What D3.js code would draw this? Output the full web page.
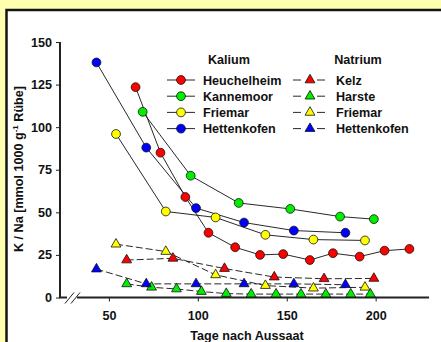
<!DOCTYPE html>
<html>
<head>
<meta charset="utf-8">
<script src="https://cdn.jsdelivr.net/npm/d3@7"></script>
<style>
  body { margin: 0; background: #ffffb0; }
  svg { display: block; font-family: "Liberation Sans", Arial, sans-serif; font-weight: bold; }
</style>
</head>
<body>
<svg id="chart" width="441" height="342"></svg>
<script>
// Kalium (circles, solid lines)
const heuchelheimDays = [65, 79, 93, 106, 121, 135, 148, 163, 176, 191, 205, 219];
const heuchelheimK = [123.5, 85, 59, 38, 29.5, 25, 25.5, 22, 26, 24, 27.5, 28.5];
const kannemoorDays = [69, 96, 123, 152, 180, 199];
const kannemoorK = [109, 71.5, 55.5, 52, 47.5, 46];
const friemarDays = [54, 82, 110, 138, 165, 194];
const friemarK = [96, 50.5, 47, 36.8, 34, 33.5];
const hettenkofenDays = [43, 71, 99, 126, 154, 183];
const hettenkofenK = [138, 88, 52.5, 44, 39.3, 38];

// Natrium (triangles, dashed lines)
const kelzDays = [60, 86, 115, 143, 171, 199];
const kelzNa = [22, 23, 17, 12, 11, 11.2];
const harsteDays = [60, 74, 88, 102, 116, 130, 144, 158, 172, 186, 197];
const harsteNa = [8, 6, 5, 3.5, 2.3, 2, 2, 2, 2, 2, 2];
const friemarNa = [31.3, 27, 13.3, 7, 5.5, 6];
const hettenkofenNa = [16.7, 8, 8, 8, 8, 7.5];

const xTicks = [50, 100, 150, 200];
const yTicks = [0, 25, 50, 75, 100, 125, 150];

const kaliumSeries = [
  { name: "Heuchelheim", color: "#ff0000", days: heuchelheimDays, vals: heuchelheimK },
  { name: "Kannemoor", color: "#00ee00", days: kannemoorDays, vals: kannemoorK },
  { name: "Friemar", color: "#ffff00", days: friemarDays, vals: friemarK },
  { name: "Hettenkofen", color: "#0000ff", days: hettenkofenDays, vals: hettenkofenK }
];
const natriumSeries = [
  { name: "Kelz", color: "#ff0000", days: kelzDays, vals: kelzNa },
  { name: "Harste", color: "#00ee00", days: harsteDays, vals: harsteNa },
  { name: "Friemar", color: "#ffff00", days: friemarDays, vals: friemarNa },
  { name: "Hettenkofen", color: "#0000ff", days: hettenkofenDays, vals: hettenkofenNa }
];

const svg = d3.select("#chart");
const fs = "12.6px";

// frame (white panel, runs off right / bottom)
svg.append("rect")
  .attr("x", 6.5).attr("y", 10)
  .attr("width", 500).attr("height", 400)
  .attr("fill", "white")
  .attr("stroke", "#151515")
  .attr("stroke-width", 2.5);

const x = d3.scaleLinear().domain([22.5, 230]).range([60, 429]);
const y = d3.scaleLinear().domain([0, 150]).range([297.5, 42]);

// y axis
const yAxis = svg.append("g").attr("transform", "translate(60,0)")
  .call(d3.axisLeft(y).tickValues(yTicks).tickSize(4).tickPadding(4));
yAxis.select(".domain").attr("stroke", "#222").attr("stroke-width", 2).attr("d", `M0,${y(150)}V${y(0)}`);
yAxis.selectAll(".tick line").attr("stroke", "#222");
yAxis.selectAll(".tick text").attr("font-size", fs).attr("font-family", null).attr("fill", "#111");

// x axis with break
const xAxis = svg.append("g").attr("transform", `translate(0,${y(0)})`)
  .call(d3.axisBottom(x).tickValues(xTicks).tickSize(4).tickPadding(10));
xAxis.select(".domain").remove();
xAxis.selectAll(".tick line").attr("stroke", "#222");
xAxis.selectAll(".tick text").attr("font-size", fs).attr("font-family", null).attr("fill", "#111");
xAxis.append("path").attr("d", "M59,0H67").attr("stroke", "#222").attr("stroke-width", 2);
xAxis.append("path").attr("d", "M77,0H429").attr("stroke", "#222").attr("stroke-width", 2);
xAxis.append("path").attr("d", "M65,6L74,-5M71,6L80,-5").attr("stroke", "#222").attr("stroke-width", 1);

// axis titles
svg.append("text")
  .attr("x", 247).attr("y", 339.5)
  .attr("text-anchor", "middle").attr("font-size", fs).attr("fill", "#111")
  .text("Tage nach Aussaat");

const yTitle = svg.append("text")
  .attr("transform", "translate(23,169) rotate(-90)")
  .attr("text-anchor", "middle").attr("font-size", fs).attr("fill", "#111");
yTitle.append("tspan").text("K / Na [mmol 1000 g");
yTitle.append("tspan").attr("font-size", "8px").attr("dy", -5).text("-1");
yTitle.append("tspan").attr("dy", 5).text(" Rübe]");

const line = d3.line().x(d => x(d[0])).y(d => y(d[1]));
const tri = d3.symbol().type(d3.symbolTriangle).size(42);
const pts = s => s.days.map((d, i) => [d, s.vals[i]]);

// lines
svg.append("g").selectAll("path")
  .data(natriumSeries).join("path")
  .attr("d", s => line(pts(s)))
  .attr("fill", "none").attr("stroke", "#111").attr("stroke-width", 0.9)
  .attr("stroke-dasharray", "7,3");

svg.append("g").selectAll("path")
  .data(kaliumSeries).join("path")
  .attr("d", s => line(pts(s)))
  .attr("fill", "none").attr("stroke", "#111").attr("stroke-width", 0.9);

// markers
natriumSeries.forEach(s => {
  svg.append("g").selectAll("path")
    .data(pts(s)).join("path")
    .attr("d", tri)
    .attr("transform", d => `translate(${x(d[0])},${y(d[1])})`)
    .attr("fill", s.color).attr("stroke", "#111").attr("stroke-width", 0.8);
});
kaliumSeries.forEach(s => {
  svg.append("g").selectAll("circle")
    .data(pts(s)).join("circle")
    .attr("cx", d => x(d[0])).attr("cy", d => y(d[1])).attr("r", 4.4)
    .attr("fill", s.color).attr("stroke", "#111").attr("stroke-width", 0.8);
});

// legend
const legend = svg.append("g").attr("font-size", fs).attr("fill", "#111");
legend.append("text").attr("x", 229).attr("y", 64).attr("text-anchor", "middle").text("Kalium");
legend.append("text").attr("x", 358).attr("y", 64).attr("text-anchor", "middle").text("Natrium");

kaliumSeries.forEach((s, i) => {
  const cy = 80 + i * 16.2;
  legend.append("line").attr("x1", 167).attr("x2", 195).attr("y1", cy).attr("y2", cy)
    .attr("stroke", "#111").attr("stroke-width", 0.9);
  legend.append("circle").attr("cx", 181).attr("cy", cy).attr("r", 4.4)
    .attr("fill", s.color).attr("stroke", "#111").attr("stroke-width", 0.8);
  legend.append("text").attr("x", 203).attr("y", cy + 4.5).text(s.name);
});
natriumSeries.forEach((s, i) => {
  const cy = 80 + i * 16.2;
  legend.append("line").attr("x1", 293).attr("x2", 325).attr("y1", cy).attr("y2", cy)
    .attr("stroke", "#111").attr("stroke-width", 0.9).attr("stroke-dasharray", "8,16,8");
  legend.append("path").attr("d", tri)
    .attr("transform", `translate(310,${cy})`)
    .attr("fill", s.color).attr("stroke", "#111").attr("stroke-width", 0.8);
  legend.append("text").attr("x", 336).attr("y", cy + 4.5).text(s.name);
});
</script>
</body>
</html>
